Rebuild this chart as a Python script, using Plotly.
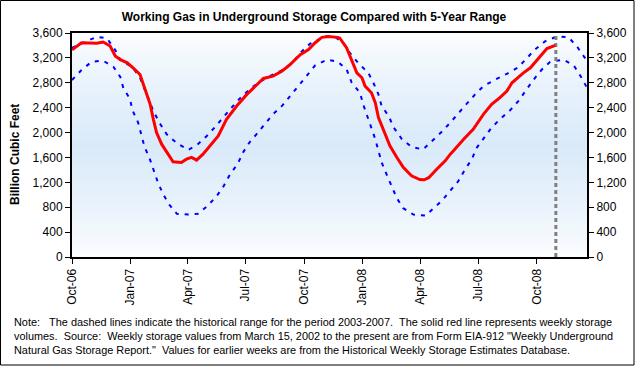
import plotly.graph_objects as go

# ---------------- data ----------------
red_dates = ["2006-10-01","2006-10-16","2006-11-09","2006-11-19","2006-11-30","2006-12-08",
    "2006-12-16","2006-12-27","2007-01-05","2007-01-16","2007-01-24","2007-02-01","2007-02-06",
    "2007-02-11","2007-02-19","2007-03-01","2007-03-09","2007-03-22","2007-03-30","2007-04-07",
    "2007-04-15","2007-04-25","2007-05-06","2007-05-19","2007-06-01","2007-06-17","2007-07-03",
    "2007-07-16","2007-07-29","2007-08-13","2007-08-27","2007-09-09","2007-09-25","2007-10-08",
    "2007-10-18","2007-10-29","2007-11-08","2007-11-23","2007-11-26","2007-12-07","2007-12-15",
    "2007-12-23","2007-12-31","2008-01-05","2008-01-15","2008-01-21","2008-01-26","2008-02-03",
    "2008-02-13","2008-02-24","2008-03-05","2008-03-18","2008-03-31","2008-04-07","2008-04-14",
    "2008-04-27","2008-05-10","2008-05-18","2008-05-23","2008-06-08","2008-06-23","2008-07-09",
    "2008-07-22","2008-08-04","2008-08-15","2008-08-23","2008-09-10","2008-09-21","2008-10-06",
    "2008-10-17","2008-10-30"]
red_values = [3330,3444,3434,3455,3390,3230,3172,3120,3040,2933,2693,2453,2213,2000,1813,1653,
    1530,1520,1573,1600,1557,1653,1786,1946,2213,2426,2613,2746,2869,2906,2986,3093,3253,3333,
    3440,3530,3545,3530,3520,3360,3146,2960,2880,2746,2640,2480,2240,2026,1786,1600,1440,1306,
    1245,1240,1275,1413,1546,1653,1706,1893,2053,2293,2453,2560,2666,2800,2960,3040,3226,3349,3402]

max_dates = ["2006-10-01","2006-10-24","2006-11-09","2006-11-25","2006-12-08","2006-12-16",
    "2007-01-05","2007-01-16","2007-01-24","2007-02-06","2007-02-16","2007-02-27","2007-03-15",
    "2007-04-02","2007-04-17","2007-05-01","2007-05-14","2007-05-27","2007-06-09","2007-06-22",
    "2007-07-07","2007-07-21","2007-08-08","2007-08-27","2007-09-14","2007-09-25","2007-10-10",
    "2007-10-26","2007-11-02","2007-11-18","2007-12-02","2007-12-12","2007-12-25","2008-01-10",
    "2008-01-18","2008-01-26","2008-01-31","2008-02-11","2008-02-19","2008-03-03","2008-03-18",
    "2008-04-05","2008-04-21","2008-05-05","2008-05-18","2008-05-31","2008-06-13","2008-06-26",
    "2008-07-09","2008-07-28","2008-08-15","2008-09-02","2008-09-15","2008-09-28","2008-10-14",
    "2008-11-02","2008-11-20","2008-12-03","2008-12-15","2008-12-19"]
max_values = [3360,3460,3540,3514,3326,3172,3040,2880,2666,2346,2149,1973,1829,1722,1813,1946,
    2090,2250,2400,2549,2693,2800,2906,2997,3138,3280,3424,3504,3551,3540,3440,3280,3120,2960,
    2800,2613,2426,2266,2080,1893,1770,1728,1877,2016,2160,2320,2464,2613,2746,2853,2944,3050,
    3184,3333,3466,3546,3530,3386,3210,3170]

min_dates = ["2006-10-01","2006-10-16","2006-11-01","2006-11-19","2006-12-05","2006-12-16",
    "2006-12-21","2006-12-31","2007-01-04","2007-01-13","2007-01-18","2007-01-23","2007-01-31",
    "2007-02-07","2007-02-13","2007-02-21","2007-03-03","2007-03-15","2007-04-02","2007-04-17",
    "2007-05-01","2007-05-16","2007-05-27","2007-06-06","2007-06-19","2007-06-27","2007-07-07",
    "2007-07-19","2007-07-31","2007-08-13","2007-08-28","2007-09-10","2007-09-24","2007-10-06",
    "2007-10-18","2007-11-06","2007-11-23","2007-12-07","2007-12-15","2007-12-28","2008-01-02",
    "2008-01-08","2008-01-14","2008-01-21","2008-01-26","2008-01-31","2008-02-08","2008-02-16",
    "2008-02-24","2008-03-05","2008-03-21","2008-04-09","2008-04-21","2008-05-05","2008-05-18",
    "2008-05-30","2008-06-10","2008-06-21","2008-06-28","2008-07-09","2008-07-22","2008-08-04",
    "2008-08-20","2008-09-02","2008-09-14","2008-09-25","2008-10-09","2008-10-22","2008-11-12",
    "2008-11-28","2008-12-09","2008-12-19"]
min_values = [2844,3005,3138,3155,3058,2893,2706,2546,2362,2162,1965,1773,1586,1389,1202,1016,
    840,693,682,693,810,970,1130,1318,1505,1680,1840,1984,2133,2293,2437,2597,2757,2922,3076,
    3173,3138,3013,2800,2640,2453,2282,2090,1893,1706,1520,1322,1130,944,784,682,666,773,906,
    1066,1210,1405,1573,1747,1893,2080,2213,2357,2506,2677,2837,3013,3136,3173,3082,2906,2720]

report_date = "2008-10-31"
x_range = ["2006-10-01", "2008-12-19"]
y_range = [0, 3600]
y_tick_step = 400

title_text = "Working Gas in Underground Storage Compared with 5-Year Range"
y_title = "Billion Cubic Feet"
note_lines = [
    "Note:\u00a0\u00a0\u00a0The dashed lines indicate the historical range for the period 2003-2007.\u00a0\u00a0The solid red line represents weekly storage",
    "volumes.\u00a0\u00a0Source:\u00a0\u00a0Weekly storage values from March 15, 2002 to the present are from Form EIA-912 \"Weekly Underground",
    "Natural Gas Storage Report.\"\u00a0\u00a0Values for earlier weeks are from the Historical Weekly Storage Estimates Database.",
]

# ---------------- figure ----------------
W, H = 638, 366
L, R, T, B = 72, 51, 33, 109
pw, ph = W - L - R, H - T - B

FONT = "Arial, 'Liberation Sans', sans-serif"

fig = go.Figure()
blue_dash = "4px,6px"
fig.add_trace(go.Scatter(x=max_dates, y=max_values, mode="lines",
                         line=dict(color="#0000FF", width=2, dash=blue_dash), hoverinfo="skip"))
fig.add_trace(go.Scatter(x=min_dates, y=min_values, mode="lines",
                         line=dict(color="#0000FF", width=2, dash=blue_dash), hoverinfo="skip"))
fig.add_trace(go.Scatter(x=[report_date, report_date], y=y_range, mode="lines",
                         line=dict(color="#808080", width=3, dash="4px,3px"), hoverinfo="skip"))
fig.add_trace(go.Scatter(x=red_dates, y=red_values, mode="lines",
                         line=dict(color="#FF0000", width=3), hoverinfo="skip"))
# invisible trace to anchor the right-hand axis
fig.add_trace(go.Scatter(x=x_range, y=y_range, yaxis="y2", mode="lines",
                         line=dict(width=0), opacity=0, hoverinfo="skip"))

# gradient background (white -> light blue -> white)
shapes = []
n = 56
top_c = (255, 255, 255)
mid_c = (218, 234, 249)
for i in range(n):
    f0, f1 = i / n, (i + 1) / n
    c = (f0 + f1) / 2
    t = 1 - abs(c - 0.5) / 0.5  # 0 at edges, 1 at middle
    t = t ** 0.7
    col = tuple(round(top_c[k] + (mid_c[k] - top_c[k]) * t) for k in range(3))
    shapes.append(dict(type="rect", xref="paper", yref="paper", x0=0, x1=1, y0=f0, y1=f1 + 0.002,
                       line=dict(width=0), fillcolor="rgb(%d,%d,%d)" % col, layer="below"))
# outer border of the whole chart
shapes.append(dict(type="rect", xref="paper", yref="paper",
                   x0=(0.5 - L) / pw, x1=(634 - L) / pw,
                   y0=(H - B - 365) / ph, y1=(H - B - 0.5) / ph,
                   line=dict(color="black", width=1), fillcolor="rgba(0,0,0,0)", layer="above"))

annotations = [
    dict(text="<b>%s</b>" % y_title, xref="paper", yref="paper",
         x=(15 - L) / pw, y=(H - B - 155) / ph, textangle=-90, showarrow=False,
         font=dict(family=FONT, size=12, color="black"), xanchor="center", yanchor="middle"),
]
for i, line in enumerate(note_lines):
    ypix = [321.5, 335.5, 349.5][i]
    annotations.append(dict(text=line, xref="paper", yref="paper",
                            x=(12 - L) / pw, y=(H - B - ypix) / ph, showarrow=False,
                            xanchor="left", yanchor="middle",
                            font=dict(family=FONT, size=10.9, color="black")))

axis_common = dict(showline=True, linecolor="black", linewidth=2, ticks="outside",
                   tickcolor="black", ticklen=5, tickwidth=1, showgrid=False, zeroline=False,
                   tickfont=dict(family=FONT, size=12, color="black"))

fig.update_layout(
    width=W, height=H,
    margin=dict(l=L, r=R, t=T, b=B, pad=0),
    paper_bgcolor="white", plot_bgcolor="white",
    showlegend=False,
    title=dict(text="<b>%s</b>" % title_text, xref="container", yref="container",
               x=314 / W, y=1 - 17 / H, xanchor="center", yanchor="middle",
               font=dict(family=FONT, size=12, color="black")),
    xaxis=dict(range=x_range, type="date", tick0="2006-10-01", dtick="M3", tickformat="%b-%y",
               tickangle=-90, mirror=True, **axis_common),
    yaxis=dict(range=y_range, dtick=y_tick_step, tickformat=",d", mirror=True, **axis_common),
    yaxis2=dict(range=y_range, dtick=y_tick_step, tickformat=",d", overlaying="y", side="right",
                **axis_common),
    shapes=shapes,
    annotations=annotations,
)

fig.write_html("out.html", config={"displayModeBar": False, "staticPlot": True},
               post_script="document.body.style.margin='0';document.body.style.overflow='hidden';")
